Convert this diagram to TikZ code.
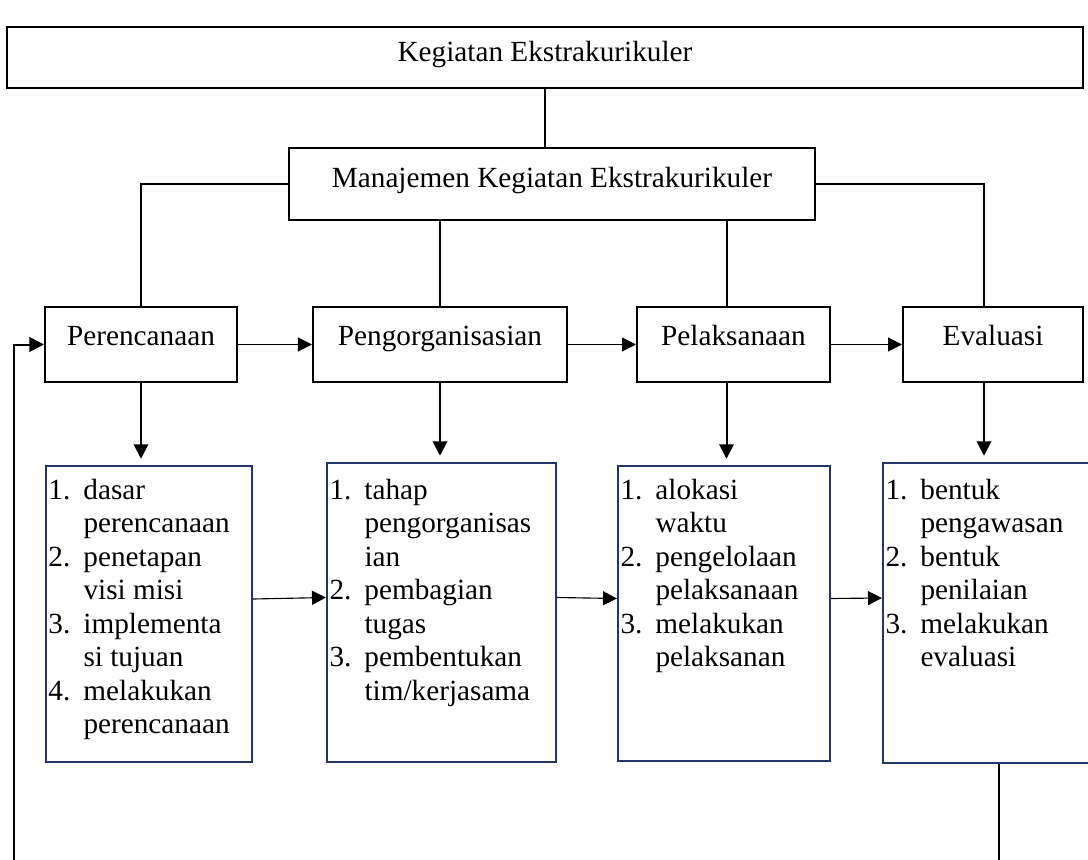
\documentclass[tikz,border=0pt]{standalone}
\usepackage{fontspec}
\setmainfont{Liberation Serif}
\usetikzlibrary{positioning,arrows.meta,calc}
\definecolor{listblue}{RGB}{31,56,100}
\tikzset{
  fig/.style={font=\fontsize{11.7}{13.4}\selectfont},
  box/.style={draw,line width=0.8pt,inner xsep=2pt,inner ysep=0pt},
  phase/.style={box,text height=15.2pt,text depth=14.8pt},
  listbox/.style={draw=listblue,line width=0.8pt,inner xsep=1pt,inner ysep=0pt},
  ln/.style={-{Triangle[length=5.8pt,width=5.8pt]},line width=0.8pt},
  lnt/.style={-{Triangle[length=5.6pt,width=5.6pt]},line width=0.45pt},
  conn/.style={line width=0.8pt},
}
\newcommand{\steplist}[2]{\parbox[t]{#1}{\begin{tabular}[t]{@{}p{14pt}@{}l@{}}#2\end{tabular}}}

\begin{document}
\begin{tikzpicture}[fig,x=0.4pt,y=-0.4pt]
\useasboundingbox (0,0) rectangle (1088,860);

\node[box,minimum width=430.4pt,text height=14pt,text depth=10.4pt] (keg) at (545,57.5)
     {Kegiatan Ekstrakurikuler};
\node[box,minimum width=210.4pt,text height=15.6pt,text depth=13.2pt] (man) at (552,184)
     {Manajemen Kegiatan Ekstrakurikuler};

\node[phase,minimum width=76.8pt]  (p1) at (141,344.5)   {Perencanaan};
\node[phase,minimum width=101.6pt] (p2) at (440,344.5)   {Pengorganisasian};
\node[phase,minimum width=77.2pt]  (p3) at (733.5,344.5) {Pelaksanaan};
\node[phase,minimum width=72pt]    (p4) at (993,344.5)   {Evaluasi};

\node[listbox,text height=13.2pt,text depth=105.2pt] (l1) at (149,614)
     {\steplist{80.4pt}{1. & dasar\\ & perencanaan\\ 2. & penetapan\\ & visi misi\\
      3. & implementa\\ & si tujuan\\ 4. & melakukan\\ & perencanaan}};
\node[listbox,text height=14.4pt,text depth=105.2pt] (l2) at (441.5,612.5)
     {\steplist{89.6pt}{1. & tahap\\ & pengorganisas\\ & ian\\ 2. & pembagian\\
      & tugas\\ 3. & pembentukan\\ & tim/kerjasama}};
\node[listbox,text height=13.2pt,text depth=104.8pt] (l3) at (724,613.5)
     {\steplist{82.8pt}{1. & alokasi\\ & waktu\\ 2. & pengelolaan\\ & pelaksanaan\\
      3. & melakukan\\ & pelaksanan}};
\node[listbox,text height=14.4pt,text depth=105.6pt] (l4) at (991.5,613)
     {\steplist{84.8pt}{1. & bentuk\\ & pengawasan\\ 2. & bentuk\\ & penilaian\\
      3. & melakukan\\ & evaluasi}};

\coordinate (x3) at ($(p3.north)+(-7,0)$);
\coordinate (x4) at ($(p4.north)+(-9,0)$);
\coordinate (fb1) at (14,870);
\coordinate (fb2) at (999,870);

\draw[conn] (keg.south) -- (keg.south |- man.north);
\draw[conn] (man.west) -| (p1.north);
\draw[conn] (man.east) -| (x4);
\draw[conn] (p2.north |- man.south) -- (p2.north);
\draw[conn] (x3 |- man.south) -- (x3);

\draw[lnt] (p1.east) -- (p2.west);
\draw[lnt] (p2.east) -- (p3.west);
\draw[lnt] (p3.east) -- (p4.west);

\draw[ln,shorten >=2.5pt] (p1.south) -- (p1.south |- l1.north);
\draw[ln,shorten >=2.5pt] (p2.south) -- (p2.south |- l2.north);
\draw[ln,shorten >=2.5pt] (x3 |- p3.south) -- (x3 |- l3.north);
\draw[ln,shorten >=2.5pt] (x4 |- p4.south) -- (x4 |- l4.north);

\draw[lnt] ($(l1.east)+(0,-15)$) -- ($(l2.west)+(0,-15)$);
\draw[lnt] ($(l2.east)+(0,-15)$) -- ($(l3.west)+(0,-15)$);
\draw[lnt] ($(l3.east)+(0,-15)$) -- ($(l4.west)+(0,-15)$);

\draw[ln] (fb1) |- (p1.west);
\draw[conn,line width=1.1pt] (fb2 |- l4.south) -- (fb2);

\end{tikzpicture}
\end{document}
